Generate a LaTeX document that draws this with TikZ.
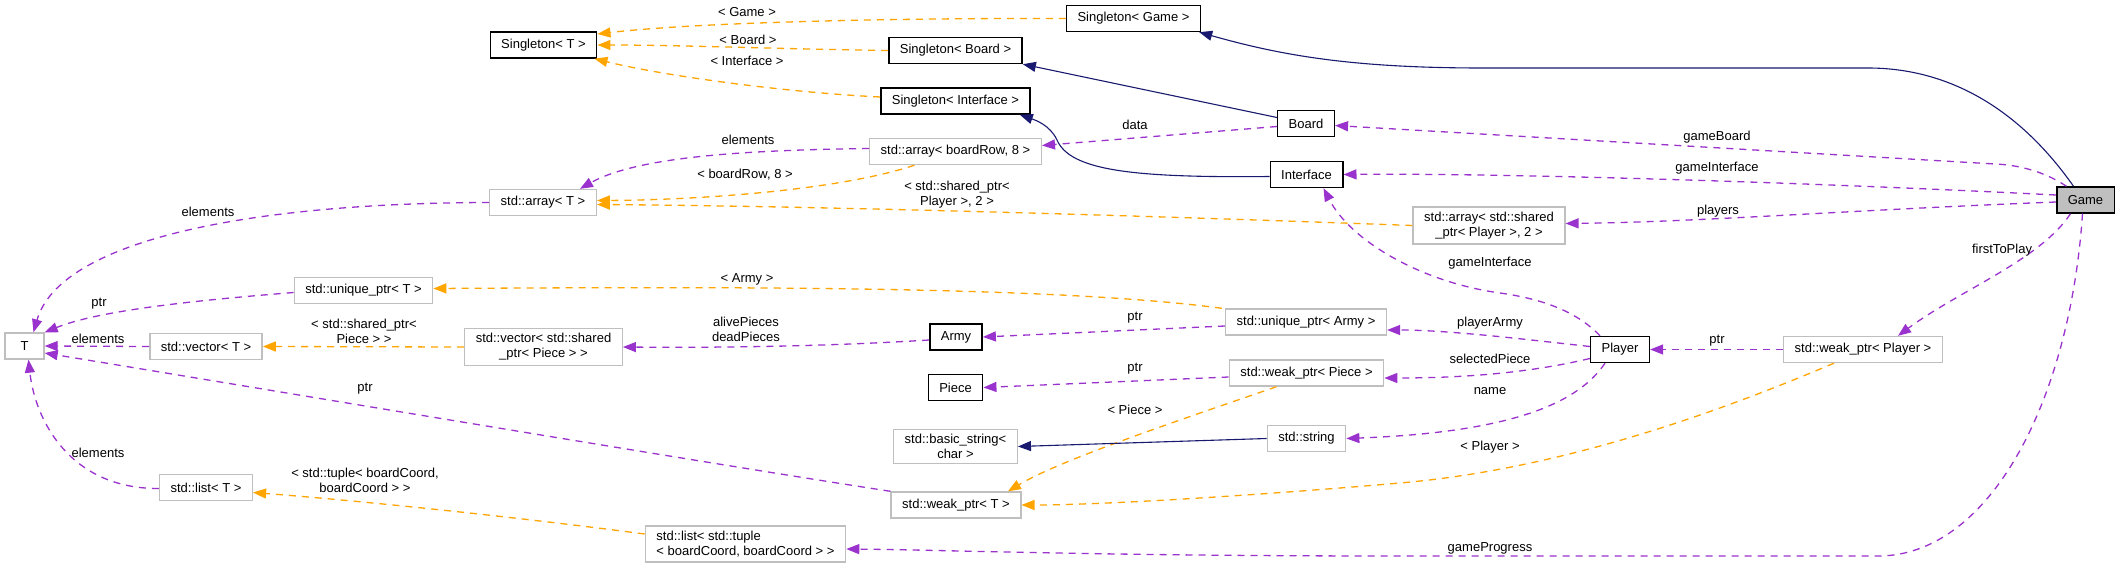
\documentclass[tikz,border=0pt]{standalone}
\usepackage{fontspec}
\setmainfont{Liberation Sans}
\usetikzlibrary{arrows.meta}
\definecolor{membercol}{HTML}{9A32CD}
\definecolor{tmplcol}{HTML}{FFA500}
\definecolor{inhcol}{HTML}{191970}
\definecolor{extcol}{HTML}{BFBFBF}
\begin{document}
\begin{tikzpicture}[x=1pt, y=-1pt, font=\fontsize{13}{15}\selectfont,
		docbox/.style={draw=black, line width=1.4pt, minimum height=26pt, inner xsep=11pt, inner ysep=5pt},
		extbox/.style={docbox, draw=extcol},
		member/.style={draw=membercol, line width=1.3pt, dash pattern=on 7pt off 6pt, -{Triangle[length=13pt,width=10pt]}},
		tmpl/.style={member, draw=tmplcol},
		inherit/.style={draw=inhcol, line width=1.1pt, -{Triangle[length=13pt,width=10pt]}},
		lbl/.style={inner sep=0pt}]
	\path[use as bounding box, fill=white] (0,0) rectangle (2120,570);
	\node[docbox] (sT) at (543.5,45) {Singleton< T >};
	\node[docbox] (sGame) at (1133.5,18.5) {Singleton< Game >};
	\node[docbox] (sBoard) at (955.5,50.5) {Singleton< Board >};
	\node[docbox] (sIface) at (955.5,101) {Singleton< Interface >};
	\node[extbox] (arrRow) at (955.5,151.5) {std::array< boardRow, 8 >};
	\node[extbox] (arrT) at (543,202.5) {std::array< T >};
	\node[docbox] (board) at (1306,123.5) {Board};
	\node[docbox] (iface) at (1306.5,174.5) {Interface};
	\node[docbox, fill=extcol] (game) at (2085.5,200) {Game};
	\node[extbox, align=center] (arrPl) at (1489,225.5) {std::array< std::shared\\\_ptr< Player >, 2 >};
	\node[extbox] (uniqT) at (363.5,290.5) {std::unique\_ptr< T >};
	\node[extbox, minimum width=39pt] (T) at (24.5,346) {T};
	\node[extbox] (vecT) at (206,346.5) {std::vector< T >};
	\node[extbox, align=center] (vecPc) at (543.5,347) {std::vector< std::shared\\\_ptr< Piece > >};
	\node[extbox] (listT) at (206,487.5) {std::list< T >};
	\node[extbox, align=left] (listTup) at (745.5,544) {std::list< std::tuple\\< boardCoord, boardCoord > >};
	\node[extbox] (uniqArmy) at (1306,322) {std::unique\_ptr< Army >};
	\node[docbox] (army) at (956,337) {Army};
	\node[docbox] (piece) at (955.5,387.5) {Piece};
	\node[extbox] (weakPc) at (1306.5,373) {std::weak\_ptr< Piece >};
	\node[extbox, align=center] (bstr) at (955.5,446.5) {std::basic\_string<\\char >};
	\node[extbox] (str) at (1306.5,438.5) {std::string};
	\node[extbox] (weakT) at (956,505) {std::weak\_ptr< T >};
	\node[docbox] (player) at (1620,349.5) {Player};
	\node[extbox] (weakPl) at (1863,349.5) {std::weak\_ptr< Player >};
	\draw[tmpl] (sGame.west) .. controls (900,18) and (700,22) .. ([yshift=11pt]sT.east) node[lbl] at (747,12) {< Game >};
	\draw[tmpl] (sBoard.west) .. controls (780,49) and (680,45) .. (sT.east) node[lbl] at (748,40) {< Board >};
	\draw[tmpl] ([yshift=4pt]sIface.west) .. controls (780,92) and (660,75) .. ([xshift=-3pt]sT.south east) node[lbl] at (747,61) {< Interface >};
	\draw[inherit] ([xshift=-12pt]game.north) .. controls (2020,110) and (1950,68) .. (1868,68) -- (1483,68) .. controls (1350,68) and (1280,55) .. ([xshift=-2pt]sGame.south east);
	\draw[inherit] ([yshift=6pt]board.west) -- (sBoard.south east);
	\draw[inherit] ([yshift=-2pt]iface.west) .. controls (1130,178) and (1070,170) .. (1057,140) .. controls (1050,125) and (1035,120) .. ([xshift=-11pt]sIface.south east);
	\draw[member] ([yshift=-3pt]board.west) -- ([yshift=6pt]arrRow.east) node[lbl] at (1135,125) {data};
	\draw[member] ([yshift=3pt]arrRow.west) .. controls (760,150) and (640,155) .. ([xshift=-17pt]arrT.north east) node[lbl] at (748,140) {elements};
	\draw[tmpl] ([xshift=-41pt]arrRow.south) .. controls (840,190) and (700,200) .. ([yshift=2pt]arrT.east) node[lbl] at (745,175) {< boardRow, 8 >};
	\draw[tmpl] (arrPl.west) .. controls (1100,214) and (800,206) .. ([yshift=-2pt]arrT.east) node[lbl, align=center] at (957,195) {< std::shared\_ptr<\\Player >, 2 >};
	\draw[member] (arrT.west) .. controls (250,203) and (60,240) .. ([xshift=9pt]T.north) node[lbl] at (208,212) {elements};
	\draw[member] ([xshift=-19pt]game.north) .. controls (2045,172) and (2020,165) .. (1995,164) -- ([yshift=-2pt]board.east) node[lbl] at (1717,137) {gameBoard};
	\draw[member] ([yshift=5pt]game.west) .. controls (1800,182) and (1500,173) .. (iface.east) node[lbl] at (1717,168) {gameInterface};
	\draw[member] ([yshift=-2pt]game.west) .. controls (1850,210) and (1700,222) .. ([yshift=2pt]arrPl.east) node[lbl] at (1718,211) {players};
	\draw[member] ([xshift=-15pt]game.south) .. controls (2040,260) and (1960,290) .. ([xshift=35pt]weakPl.north) node[lbl] at (2002,250) {firstToPlay};
	\draw[member] ([xshift=-3pt]game.south) .. controls (2070,400) and (1990,556) .. (1878,556) -- (1400,556) .. controls (1100,556) and (950,550) .. ([yshift=-5pt]listTup.east) node[lbl] at (1490,548) {gameProgress};
	\draw[member] ([xshift=-20pt]player.north) .. controls (1580,315) and (1550,300) .. (1500,293) .. controls (1420,282) and (1350,240) .. ([xshift=17pt]iface.south) node[lbl] at (1490,263) {gameInterface};
	\draw[member] ([yshift=3pt]player.west) .. controls (1530,340) and (1450,330) .. ([yshift=-8pt]uniqArmy.east) node[lbl] at (1490,323) {playerArmy};
	\draw[member] ([yshift=-9pt]player.west) .. controls (1520,375) and (1450,378) .. ([yshift=-5pt]weakPc.east) node[lbl] at (1490,359) {selectedPiece};
	\draw[member] ([xshift=-15pt]player.south) .. controls (1580,400) and (1520,432) .. (str.east) node[lbl] at (1490,391) {name};
	\draw[member] (weakPl.west) -- (player.east) node[lbl] at (1717,341) {ptr};
	\draw[tmpl] ([xshift=-29pt]weakPl.south) .. controls (1700,420) and (1550,470) .. (1400,483) .. controls (1250,496) and (1100,505) .. (weakT.east) node[lbl] at (1490,447) {< Player >};
	\draw[member] ([yshift=-4pt]uniqArmy.west) -- (army.east) node[lbl] at (1135,318) {ptr};
	\draw[tmpl] ([xshift=-3pt]uniqArmy.north west) .. controls (1050,285) and (700,287) .. ([yshift=2pt]uniqT.east) node[lbl] at (747,279) {< Army >};
	\draw[member] ([yshift=-4pt]weakPc.west) -- (piece.east) node[lbl] at (1135,369) {ptr};
	\draw[tmpl] ([xshift=-30pt]weakPc.south) .. controls (1180,420) and (1060,460) .. ([xshift=52pt]weakT.north) node[lbl] at (1135,410) {< Piece >};
	\draw[inherit] (str.west) -- (bstr.east);
	\draw[member] ([yshift=-2pt]uniqT.west) .. controls (200,300) and (100,310) .. (T.north east) node[lbl] at (99,304) {ptr};
	\draw[member] (vecT.west) -- (T.east) node[lbl] at (98,339) {elements};
	\draw[tmpl] (vecPc.west) -- (vecT.east) node[lbl, align=center] at (364,331) {< std::shared\_ptr<\\Piece > >};
	\draw[member] ([yshift=-3pt]army.west) .. controls (850,345) and (750,348) .. (vecPc.east) node[lbl, align=center] at (746,329) {alivePieces\\deadPieces};
	\draw[member] (weakT.north west) .. controls (700,462) and (300,395) .. ([yshift=-7pt]T.east) node[lbl] at (365,389) {ptr};
	\draw[member] ([yshift=-1pt]listT.west) .. controls (70,489) and (35,420) .. ([xshift=4pt]T.south) node[lbl] at (98,453) {elements};
	\draw[tmpl] ([yshift=10pt]listTup.west) .. controls (500,515) and (350,500) .. ([yshift=-5pt]listT.east) node[lbl, align=center] at (365,480) {< std::tuple< boardCoord,\\boardCoord > >};
\end{tikzpicture}
\end{document}
